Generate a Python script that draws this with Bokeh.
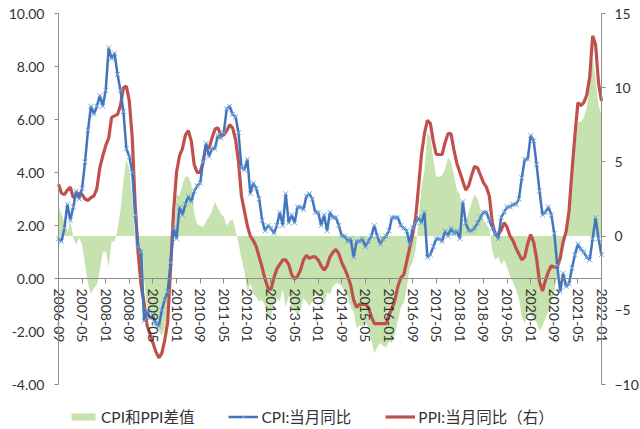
from math import pi
import pandas as pd
from bokeh.plotting import figure
from bokeh.models import (Range1d, LinearAxis, FixedTicker, NumeralTickFormatter,
                          Legend, LegendItem, ColumnDataSource)
from bokeh.embed import file_html
from bokeh.resources import INLINE

# ---------------- data ----------------
months = list(pd.period_range("2006-09", "2022-01", freq="M").strftime("%Y-%m"))

cpi = [1.5, 1.4, 1.9, 2.8,
       2.2, 2.7, 3.3, 3.0, 3.4, 4.4, 5.6, 6.5, 6.2, 6.5, 6.9, 6.5,
       7.1, 8.7, 8.3, 8.5, 7.7, 7.1, 6.3, 4.9, 4.6, 4.0, 2.4, 1.2,
       1.0, -1.6, -1.2, -1.5, -1.4, -1.7, -1.8, -1.2, -0.8, -0.5, 0.6, 1.9,
       1.5, 2.7, 2.4, 2.8, 3.1, 2.9, 3.3, 3.5, 3.6, 4.4, 5.1, 4.6,
       4.9, 4.9, 5.4, 5.3, 5.5, 6.4, 6.5, 6.2, 6.1, 5.5, 4.2, 4.1,
       4.5, 3.2, 3.6, 3.4, 3.0, 2.2, 1.8, 2.0, 1.9, 1.7, 2.0, 2.5,
       2.0, 3.2, 2.1, 2.4, 2.1, 2.7, 2.7, 2.6, 3.1, 3.2, 3.0, 2.5,
       2.5, 2.0, 2.4, 1.8, 2.5, 2.3, 2.3, 2.0, 1.6, 1.6, 1.4, 1.5,
       0.8, 1.4, 1.4, 1.5, 1.2, 1.4, 1.6, 2.0, 1.6, 1.3, 1.5, 1.6,
       1.8, 2.3, 2.3, 2.3, 2.0, 1.9, 1.8, 1.3, 1.9, 2.1, 2.3, 2.1,
       2.5, 0.8, 0.9, 1.2, 1.5, 1.5, 1.4, 1.8, 1.6, 1.9, 1.7, 1.8,
       1.5, 2.9, 2.1, 1.8, 1.8, 1.9, 2.1, 2.3, 2.5, 2.5, 2.2, 1.9,
       1.7, 1.5, 2.3, 2.5, 2.7, 2.7, 2.8, 2.8, 3.0, 3.8, 4.5, 4.5,
       5.4, 5.2, 4.3, 3.3, 2.4, 2.5, 2.7, 2.4, 1.7, 0.5, -0.5, 0.2,
       -0.3, -0.2, 0.4, 0.9, 1.3, 1.1, 1.0, 0.8, 0.7, 1.5, 2.3, 1.5,
       0.9]

ppi = [3.5, 2.9, 2.8, 3.1,
       3.3, 2.6, 2.7, 2.9, 2.8, 2.5, 2.4, 2.6, 2.7, 3.2, 4.6, 5.4,
       6.1, 6.6, 8.0, 8.1, 8.2, 8.8, 10.0, 10.1, 9.1, 6.6, 2.0, -1.1,
       -3.3, -4.5, -6.0, -6.6, -7.2, -7.8, -8.2, -7.9, -7.0, -5.8, -2.1, 1.7,
       4.3, 5.4, 5.9, 6.8, 7.1, 6.4, 4.8, 4.3, 4.3, 5.0, 6.1, 5.9,
       6.6, 7.2, 7.3, 6.8, 6.8, 7.1, 7.5, 7.3, 6.5, 5.0, 2.7, 1.7,
       0.7, 0.0, -0.3, -0.7, -1.4, -2.1, -2.9, -3.5, -3.6, -2.8, -2.2, -1.9,
       -1.6, -1.6, -1.9, -2.6, -2.9, -2.7, -2.3, -1.6, -1.3, -1.5, -1.4, -1.4,
       -1.6, -2.0, -2.3, -2.0, -1.4, -1.1, -0.9, -1.2, -1.8, -2.2, -2.7, -3.3,
       -4.3, -4.8, -4.6, -4.6, -4.6, -4.8, -5.4, -5.9, -5.9, -5.9, -5.9, -5.9,
       -5.3, -4.9, -4.3, -3.4, -2.8, -2.6, -1.7, -0.8, 0.1, 1.2, 3.3, 5.5,
       6.9, 7.8, 7.6, 6.4, 5.5, 5.5, 5.5, 6.3, 6.9, 6.9, 5.8, 4.9,
       4.3, 3.7, 3.1, 3.4, 4.1, 4.7, 4.6, 4.1, 3.6, 3.3, 2.7, 0.9,
       0.1, 0.1, 0.4, 0.9, 0.6, 0.0, -0.3, -0.8, -1.2, -1.6, -1.4, -0.5,
       0.1, -0.4, -1.5, -3.1, -3.7, -3.0, -2.4, -2.0, -2.1, -2.1, -1.5, -0.4,
       0.3, 1.7, 4.4, 6.8, 9.0, 8.8, 9.0, 9.5, 10.7, 13.5, 12.9, 10.3,
       9.1]

# difference series (PPI minus CPI), plotted on the right axis
diff = [round(b - a, 2) for a, b in zip(cpi, ppi)]

left_ticks = [-4, -2, 0, 2, 4, 6, 8, 10]
right_ticks = [-10, -5, 0, 5, 10, 15]
tick_step = 8

# ---------------- layout (pixels) ----------------
W, H = 640, 429
AX_L, AX_R = 58, 601        # pixel x of left / right axis lines
AX_T, AX_B = 13, 384        # pixel y of top / bottom of the axes
n_last = len(months) - 1
xpp = n_last / (AX_R - AX_L)
x_lo = 0 - AX_L * xpp
x_hi = n_last + (W - AX_R) * xpp
lspan = left_ticks[-1] - left_ticks[0]
rspan = right_ticks[-1] - right_ticks[0]
lpp = lspan / (AX_B - AX_T)
rpp = rspan / (AX_B - AX_T)
l_lo = left_ticks[0] - (H - AX_B) * lpp
l_hi = left_ticks[-1] + AX_T * lpp
r_lo = right_ticks[0] - (H - AX_B) * rpp
r_hi = right_ticks[-1] + AX_T * rpp

idx = list(range(len(months)))
src = ColumnDataSource(dict(x=idx, cpi=cpi, ppi=ppi, diff=diff))

FONT = "Lato"
TXT = "#333333"
AX = "#8c8c8c"

p = figure(frame_width=W, frame_height=H,
           x_range=Range1d(x_lo, x_hi), y_range=Range1d(l_lo, l_hi),
           output_backend="svg", toolbar_location=None,
           min_border=0, outline_line_color=None, background_fill_color="white")
p.grid.visible = False
p.extra_y_ranges = {"right": Range1d(r_lo, r_hi)}

area = p.varea(x="x", y1=0, y2="diff", source=src, y_range_name="right",
               fill_color="#C6E2AE", fill_alpha=1.0)
red = p.line(x="x", y="ppi", source=src, y_range_name="right",
             line_color="#C0504D", line_width=3.2)
blue = p.line(x="x", y="cpi", source=src, line_color="#4275BD", line_width=2.5)
marks = p.scatter(x="x", y="cpi", source=src, marker="x", size=7,
                  line_color="#74A6DC", line_width=1)

# x axis placed at y = 0
xa = p.xaxis[0]
xa.ticker = FixedTicker(ticks=idx[::tick_step])
xa.major_label_overrides = {i: months[i] for i in idx[::tick_step]}
xa.major_label_orientation = "vertical"
xa.fixed_location = 0
xa.bounds = (0, n_last)
xa.axis_line_color = AX
xa.major_tick_line_color = AX
xa.major_tick_out = 5
xa.major_tick_in = 0
xa.minor_tick_line_color = None
xa.major_label_standoff = 5
xa.major_label_text_font = FONT
xa.major_label_text_font_size = "14px"
xa.major_label_text_color = TXT

ya = p.yaxis[0]
ya.ticker = FixedTicker(ticks=left_ticks)
ya.formatter = NumeralTickFormatter(format="0.00")
ya.bounds = (left_ticks[0], left_ticks[-1])
ya.fixed_location = 0
ya.axis_line_color = AX
ya.major_tick_line_color = AX
ya.major_tick_out = 4
ya.major_tick_in = 0
ya.minor_tick_line_color = None
ya.major_label_standoff = 10
ya.major_label_text_font = FONT
ya.major_label_text_font_size = "14px"
ya.major_label_text_color = TXT

ra = LinearAxis(y_range_name="right", ticker=FixedTicker(ticks=right_ticks),
                bounds=(right_ticks[0], right_ticks[-1]), fixed_location=n_last)
ra.axis_line_color = AX
ra.major_tick_line_color = AX
ra.major_tick_out = 4
ra.major_tick_in = 0
ra.minor_tick_line_color = None
ra.major_label_standoff = 9
ra.major_label_text_font = FONT
ra.major_label_text_font_size = "14px"
ra.major_label_text_color = TXT
p.add_layout(ra, "right")

legend = Legend(items=[
    LegendItem(label="CPI和PPI差值", renderers=[area]),
    LegendItem(label="CPI:当月同比", renderers=[blue, marks]),
    LegendItem(label="PPI:当月同比（右）", renderers=[red]),
], orientation="horizontal", location=(AX_L + 10, 2))
legend.border_line_color = None
legend.background_fill_alpha = 0
legend.padding = 0
legend.margin = 0
legend.spacing = 34
legend.label_standoff = 3
legend.glyph_width = 30
legend.glyph_height = 9
legend.label_height = 20
legend.label_text_font = "Lato, 'Noto Sans CJK SC'"
legend.label_text_font_size = "15.5px"
legend.label_text_color = TXT
p.add_layout(legend)

open("out.html", "w").write(file_html(p, INLINE))
